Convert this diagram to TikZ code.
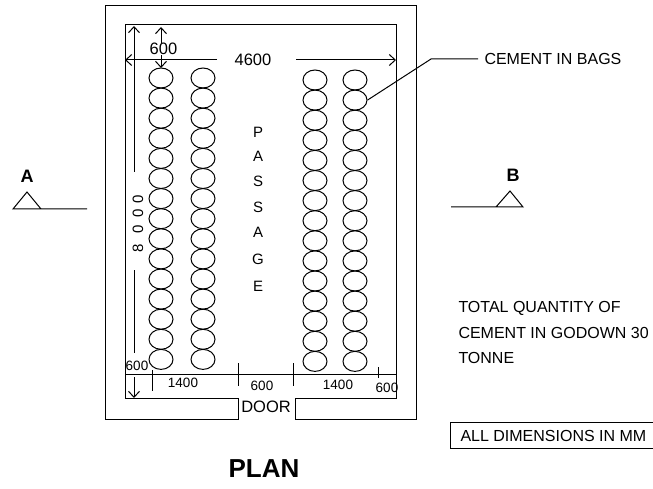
\documentclass[tikz,border=0pt]{standalone}
\usepackage{fontspec}
\setmainfont{Liberation Sans}
\usetikzlibrary{positioning}
\usetikzlibrary{shapes.geometric,arrows.meta}
\tikzset{%
  bag/.style      = {draw, ellipse, inner sep=0pt, minimum width=24pt, minimum height=20pt}, % Cement bag
  dim/.style      = {inner sep=0pt, font=\fontsize{13.5}{14}\selectfont}, % Small dimension text
  bigdim/.style   = {inner sep=0pt, font=\fontsize{16.5}{17}\selectfont}, % Large dimension text
  note/.style     = {inner sep=0pt, anchor=west, font=\fontsize{16}{16}\selectfont},
  letter/.style   = {inner sep=0pt, font=\fontsize{15}{15}\selectfont},
  section/.style  = {inner sep=0pt, font=\fontsize{18}{18}\selectfont\bfseries}
}
\begin{document}
\begin{tikzpicture}[x=1pt, y=-1pt, line width=1pt, >={Straight Barb[length=6pt,width=11pt]}]
  \useasboundingbox (0,0) rectangle (653,489);

  % walls
  \draw (238,419) -- (105,419) -- (105,6) -- (416,6) -- (416,419) -- (295,419) -- (295,398) -- (396,398) -- (396,25) -- (125,25) -- (125,398) -- (238,398) -- cycle;
  \draw node at (266,407) [bigdim] (door) {DOOR};

  % bags
  \foreach \row in {0,...,14}{
    \draw node at (161,78+20.1*\row) [bag] (bagA\row) {};
    \draw node at (203,78+20.1*\row) [bag] (bagB\row) {};
    \draw node at (315,80+20.1*\row) [bag] (bagC\row) {};
    \draw node at (355,80+20.1*\row) [bag] (bagD\row) {};
  }

  % passage
  \draw node at (258,132) [letter] (p1) {P};
  \draw node at (258,156) [letter] (p2) {A};
  \draw node at (258,181) [letter] (p3) {S};
  \draw node at (258,207) [letter] (p4) {S};
  \draw node at (258,232) [letter] (p5) {A};
  \draw node at (258,259) [letter] (p6) {G};
  \draw node at (258,286) [letter] (p7) {E};

  % top dimensions
  \draw node at (253,60) [bigdim] (width) {4600};
  \coordinate (wl) at (125,60);
  \coordinate (wr) at (396,60);
  \coordinate (wa) at (217,60);
  \coordinate (wb) at (296,60);
  \draw[->] (wa) -- (wl);
  \draw[->] (wb) -- (wr);
  \draw node at (163.5,49) [bigdim] (top600) {600};
  \coordinate (tt) at (161,27);
  \coordinate (tb) at (161,68);
  \draw[->] (top600.north -| tt) -- (tt);
  \draw[->] (top600.south -| tb) -- (tb);

  % long dimension
  \draw node at (138,223.5) [inner sep=0pt, rotate=90, font=\fontsize{15}{15}\selectfont] (length) {8\hspace{10.7pt}0\hspace{7.7pt}0\hspace{5.7pt}0};
  \coordinate (lt) at (134,26);
  \coordinate (lm) at (134,172);
  \coordinate (ln) at (134,270);
  \coordinate (lb) at (134,353);
  \draw[->] (lm) -- (lt);
  \draw (ln) -- (lb);

  % bottom dimensions
  \coordinate (bl) at (125,374);
  \coordinate (br) at (396,374);
  \draw (bl) -- (br);
  \draw (152,370) -- (152,391);
  \draw (238,363) -- (238,386);
  \draw (293,363) -- (293,386);
  \draw (378,367) -- (378,378);
  \draw node at (183,383) [dim] (d1) {1400};
  \draw node at (262,386) [dim] (d2) {600};
  \draw node at (338,385) [dim] (d3) {1400};
  \draw node at (387,388) [dim] (d4) {600};
  \draw node at (137,366) [dim] (d5) {600};
  \coordinate (da) at (134,377);
  \coordinate (db) at (134,398);
  \draw[->] (da) -- (db);

  % leader
  \draw node at (484,59) [note] (cement) {CEMENT IN BAGS};
  \coordinate (bend) at (431,59);
  \coordinate (lead) at (478,59);
  \draw (bagD1.east) -- (bend) -- (lead);

  % section marks
  \draw node at (27,176) [section] (A) {A};
  \draw (41,209) -- (27,192) -- (13,209) -- (87,209);
  \draw node at (513,175) [section] (B) {B};
  \draw (451,207) -- (523,207) -- (510,191) -- (496,207);

  % notes
  \draw node at (458,308) [note] (q1) {TOTAL QUANTITY OF};
  \draw node at (458,333) [note] (q2) {CEMENT IN GODOWN 30};
  \draw node at (458,358) [note] (q3) {TONNE};
  \draw (653,422) -- (450,422) -- (450,448) -- (653,448);
  \draw node at (460,436) [note] (dims) {ALL DIMENSIONS IN MM};

  \draw node at (264,469) [inner sep=0pt, font=\fontsize{26}{26}\selectfont\bfseries] (plan) {PLAN};
\end{tikzpicture}
\end{document}
